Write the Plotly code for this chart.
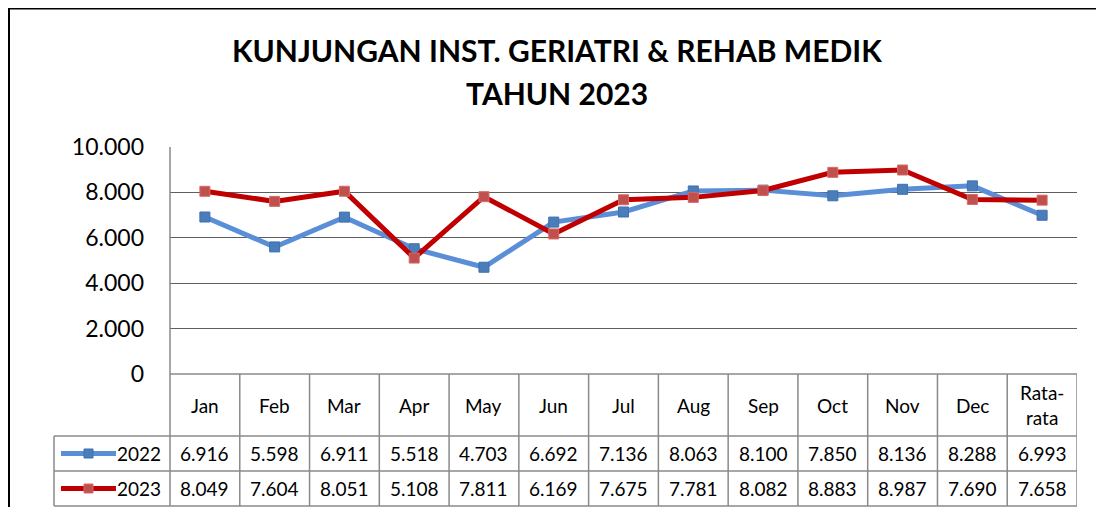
import plotly.graph_objects as go

# ---------------- data ----------------
categories = ["Jan", "Feb", "Mar", "Apr", "May", "Jun", "Jul", "Aug", "Sep",
              "Oct", "Nov", "Dec", "Rata-rata"]
header_labels = ["Jan", "Feb", "Mar", "Apr", "May", "Jun", "Jul", "Aug", "Sep",
                 "Oct", "Nov", "Dec", "Rata-<br>rata"]
series_names = ["2022", "2023"]
values_2022 = [6916, 5598, 6911, 5518, 4703, 6692, 7136, 8063, 8100, 7850, 8136, 8288, 6993]
values_2023 = [8049, 7604, 8051, 5108, 7811, 6169, 7675, 7781, 8082, 8883, 8987, 7690, 7658]
y_ticks = [0, 2000, 4000, 6000, 8000, 10000]
title_lines = ["KUNJUNGAN INST. GERIATRI &amp; REHAB MEDIK", "TAHUN 2023"]

# ---------------- style ----------------
OFF = 8  # page body margin offset
W, H = 1104 - 2 * OFF, 515 - 2 * OFF  # fit inside the window without scrollbars
FONT = "Lato"
line_colors = ["#5A8FD8", "#C00000"]
marker_colors = ["#4A7EBB", "#C0504D"]
marker_lines = ["#3F6FAE", "#D46A66"]
GRID = "#8A8A8A"


def px(x):
    return (x - OFF) / W


def py(y):
    return 1 - (y - OFF) / H


def fmt(v):
    return f"{v:,}".replace(",", ".")


plot_left, plot_right = 170, 1077
plot_top, plot_bottom = 147, 374
row_lines = [374, 436, 471, 506]
label_left = 54

fig = go.Figure()
series_values = [values_2022, values_2023]
for i, name in enumerate(series_names):
    fig.add_trace(go.Scatter(
        x=categories, y=series_values[i], mode="lines+markers", name=name,
        line=dict(color=line_colors[i], width=5),
        marker=dict(symbol="square", size=10, color=marker_colors[i],
                    line=dict(color=marker_lines[i], width=1)),
        showlegend=False, cliponaxis=False,
    ))

shapes = []
annotations = []

# outer chart border: top and left edges (right/bottom lie outside the picture)
shapes.append(dict(type="line", xref="paper", yref="paper",
                   x0=px(8), x1=px(1120), y0=py(8.5), y1=py(8.5),
                   line=dict(color="black", width=2)))
shapes.append(dict(type="line", xref="paper", yref="paper",
                   x0=px(9), x1=px(9), y0=py(8), y1=py(530),
                   line=dict(color="black", width=2)))

# plot-area left line extending down through the header row
shapes.append(dict(type="line", xref="paper", yref="paper",
                   x0=px(plot_left), x1=px(plot_left), y0=py(plot_top), y1=py(row_lines[-1]),
                   line=dict(color=GRID, width=1.5)))

# table horizontal lines
shapes.append(dict(type="line", xref="paper", yref="paper",
                   x0=px(plot_left), x1=px(plot_right), y0=py(row_lines[0]), y1=py(row_lines[0]),
                   line=dict(color=GRID, width=1.5)))
for r in row_lines[1:]:
    shapes.append(dict(type="line", xref="paper", yref="paper",
                       x0=px(label_left), x1=px(plot_right), y0=py(r), y1=py(r),
                       line=dict(color=GRID, width=1.5)))
# label column left edge
shapes.append(dict(type="line", xref="paper", yref="paper",
                   x0=px(label_left), x1=px(label_left), y0=py(row_lines[1]), y1=py(row_lines[-1]),
                   line=dict(color=GRID, width=1.5)))
# table column separators
for i in range(1, len(categories) + 1):
    shapes.append(dict(type="line", xref="x", yref="paper",
                       x0=i - 0.5, x1=i - 0.5, y0=py(row_lines[0]), y1=py(row_lines[-1]),
                       line=dict(color=GRID, width=1.5)))

CELL_FONT = dict(family=FONT, size=19, color="black")

# header labels
for cat, lab in zip(categories, header_labels):
    annotations.append(dict(x=cat, xref="x", yref="paper",
                            y=py((row_lines[0] + row_lines[1]) / 2),
                            xanchor="center", yanchor="middle",
                            text=lab, showarrow=False, font=CELL_FONT))

# data rows + legend keys
for i, name in enumerate(series_names):
    top, bot = row_lines[i + 1], row_lines[i + 2]
    ymid = (top + bot) / 2
    yc = py(ymid)
    for cat, v in zip(categories, series_values[i]):
        annotations.append(dict(x=cat, xref="x", yref="paper", y=yc, text=fmt(v),
                                xanchor="center", yanchor="middle",
                                showarrow=False, font=CELL_FONT))
    annotations.append(dict(x=px(163), xref="paper", yref="paper", y=yc, text=name,
                            xanchor="right", yanchor="middle", showarrow=False,
                            font=CELL_FONT))
    shapes.append(dict(type="line", xref="paper", yref="paper",
                       x0=px(61), x1=px(116), y0=py(ymid), y1=py(ymid),
                       line=dict(color=line_colors[i], width=5)))
    shapes.append(dict(type="rect", xref="paper", yref="paper",
                       x0=px(84), x1=px(93), y0=py(ymid + 4.5), y1=py(ymid - 4.5),
                       fillcolor=marker_colors[i], line=dict(color=marker_lines[i], width=1)))

# title
for t, yy in zip(title_lines, [50, 93]):
    annotations.append(dict(x=px(557), y=py(yy), xref="paper", yref="paper",
                            xanchor="center", yanchor="middle",
                            text=f"<b>{t}</b>", showarrow=False,
                            font=dict(family=FONT, size=30, color="black")))

fig.update_layout(
    width=W, height=H,
    margin=dict(l=0, r=0, t=0, b=0, pad=0, autoexpand=False),
    paper_bgcolor="white", plot_bgcolor="white",
    separators=",.",
    font=dict(family=FONT, color="black"),
    shapes=shapes, annotations=annotations,
    xaxis=dict(domain=[px(plot_left), px(plot_right)], range=[-0.5, len(categories) - 0.5],
               type="category", showticklabels=False, showgrid=False, zeroline=False,
               showline=False, ticks="", automargin=False),
    yaxis=dict(domain=[py(plot_bottom), py(plot_top)], range=[0, 10000],
               tickvals=y_ticks, ticktext=[fmt(v) for v in y_ticks],
               showgrid=True, gridcolor="#5E5E5E", gridwidth=1, zeroline=False,
               showline=False, ticks="", ticklabelstandoff=25, automargin=False,
               tickfont=dict(family=FONT, size=23, color="black")),
)

fig.write_html("out.html")
